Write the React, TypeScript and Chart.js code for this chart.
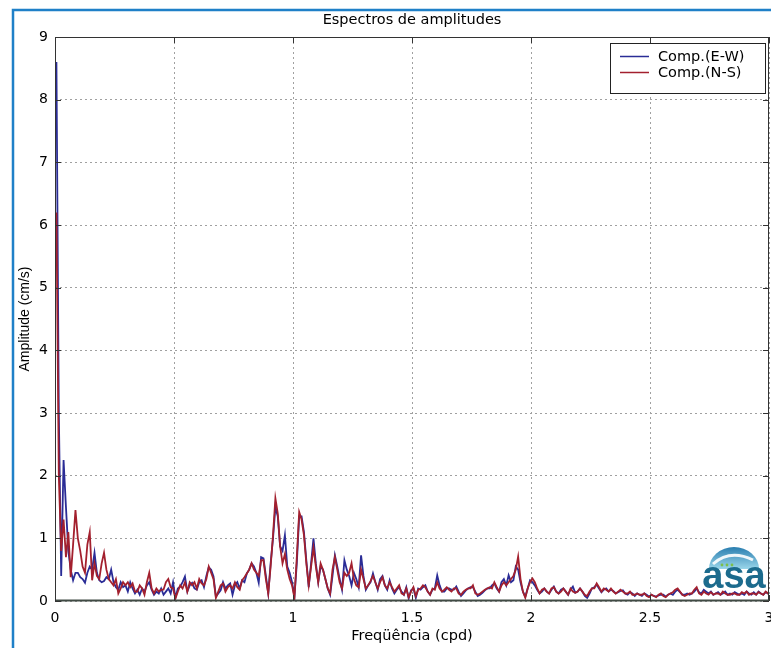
import React, { useEffect, useRef } from 'react';
import { Chart, registerables } from 'chart.js';

Chart.register(...registerables);

const TITLE = 'Espectros de amplitudes';
const X_LABEL = 'Freqüência (cpd)';
const Y_LABEL = 'Amplitude (cm/s)';
const SERIES_NAMES = ['Comp.(E-W)', 'Comp.(N-S)'];
const SERIES_COLORS = ['#2a2c96', '#a3202e'];
const FREQ_STEP = 0.01; // cpd between spectral estimates
const FREQ_START = 0.006; // first resolved frequency (cpd)
const X_MIN = 0;
const X_MAX = 3;
const X_STEP = 0.5;
const Y_MIN = 0;
const Y_MAX = 9;
const Y_STEP = 1;

// Amplitude spectrum, E-W component (cm/s), one value per 0.01 cpd
const ewAmp = [
  8.6, 3.0, 0.4, 2.25, 1.5, 0.8, 0.5, 0.33, 0.45, 0.45,
  0.38, 0.35, 0.29, 0.45, 0.55, 0.5, 0.77, 0.45, 0.33, 0.3,
  0.32, 0.38, 0.35, 0.5, 0.3, 0.22, 0.18, 0.3, 0.22, 0.25,
  0.15, 0.3, 0.2, 0.12, 0.18, 0.1, 0.2, 0.15, 0.25, 0.3,
  0.18, 0.1, 0.15, 0.12, 0.2, 0.1, 0.15, 0.2, 0.12, 0.3,
  0.05, 0.2, 0.23, 0.3, 0.39, 0.15, 0.25, 0.29, 0.2, 0.18,
  0.3, 0.33, 0.22, 0.4, 0.54, 0.5, 0.39, 0.07, 0.12, 0.17,
  0.3, 0.2, 0.25, 0.28, 0.1, 0.25, 0.3, 0.2, 0.33, 0.3,
  0.44, 0.5, 0.6, 0.55, 0.45, 0.29, 0.7, 0.68, 0.4, 0.12,
  0.6, 1.0, 1.5, 1.35, 0.87, 0.8, 1.05, 0.55, 0.45, 0.3,
  0.07, 0.6, 1.35, 1.35, 1.1, 0.65, 0.22, 0.6, 1.0, 0.6,
  0.3, 0.55, 0.5, 0.35, 0.2, 0.1, 0.4, 0.73, 0.55, 0.35,
  0.18, 0.65, 0.5, 0.4, 0.25, 0.45, 0.35, 0.22, 0.73, 0.4,
  0.18, 0.25, 0.3, 0.44, 0.3, 0.18, 0.35, 0.4, 0.25, 0.18,
  0.33, 0.2, 0.12, 0.18, 0.22, 0.15, 0.1, 0.22, 0.04, 0.17,
  0.2, 0.05, 0.2, 0.18, 0.22, 0.25, 0.15, 0.1, 0.18, 0.2,
  0.41, 0.25, 0.15, 0.15, 0.2, 0.2, 0.18, 0.18, 0.23, 0.15,
  0.08, 0.12, 0.17, 0.2, 0.22, 0.22, 0.15, 0.08, 0.1, 0.13,
  0.17, 0.2, 0.2, 0.25, 0.28, 0.2, 0.15, 0.3, 0.35, 0.25,
  0.41, 0.3, 0.33, 0.55, 0.5, 0.3, 0.15, 0.07, 0.2, 0.33,
  0.3, 0.25, 0.18, 0.12, 0.15, 0.2, 0.15, 0.12, 0.18, 0.23,
  0.15, 0.12, 0.18, 0.2, 0.15, 0.1, 0.18, 0.23, 0.13, 0.15,
  0.2, 0.15, 0.08, 0.05, 0.12, 0.2, 0.22, 0.26, 0.2, 0.14,
  0.18, 0.2, 0.15, 0.18, 0.16, 0.12, 0.14, 0.16, 0.17, 0.12,
  0.1, 0.14, 0.12, 0.08, 0.12, 0.1, 0.08, 0.12, 0.1, 0.07,
  0.1, 0.08, 0.07, 0.09, 0.1, 0.1, 0.07, 0.1, 0.12, 0.1,
  0.15, 0.18, 0.14, 0.1, 0.1, 0.12, 0.1, 0.12, 0.15, 0.2,
  0.14, 0.12, 0.18, 0.15, 0.12, 0.15, 0.1, 0.12, 0.14, 0.1,
  0.12, 0.15, 0.1, 0.12, 0.1, 0.14, 0.12, 0.1, 0.12, 0.1,
  0.15, 0.12, 0.1, 0.14, 0.1, 0.15, 0.12, 0.1, 0.14, 0.12,
  0.15,
];

// Amplitude spectrum, N-S component (cm/s), one value per 0.01 cpd
const nsAmp = [
  6.2, 2.0, 0.8, 1.3, 0.7, 1.1, 0.38, 0.9, 1.45, 1.0,
  0.8, 0.55, 0.45, 0.9, 1.1, 0.33, 0.6, 0.4, 0.35, 0.6,
  0.77, 0.5, 0.35, 0.3, 0.25, 0.35, 0.12, 0.2, 0.3, 0.25,
  0.3, 0.22, 0.28, 0.15, 0.15, 0.25, 0.2, 0.1, 0.3, 0.45,
  0.2, 0.12, 0.2, 0.15, 0.18, 0.18, 0.3, 0.35, 0.22, 0.2,
  0.04, 0.15, 0.25, 0.2, 0.3, 0.15, 0.3, 0.25, 0.3, 0.2,
  0.35, 0.28, 0.25, 0.35, 0.55, 0.45, 0.35, 0.05, 0.15, 0.25,
  0.28, 0.15, 0.22, 0.25, 0.2, 0.3, 0.22, 0.18, 0.33, 0.38,
  0.44, 0.5, 0.6, 0.5, 0.45, 0.4, 0.65, 0.65, 0.35, 0.12,
  0.55, 1.05, 1.64, 1.4, 0.87, 0.6, 0.75, 0.5, 0.35, 0.25,
  0.05, 0.7, 1.42, 1.3, 1.05, 0.6, 0.25, 0.55, 0.85, 0.55,
  0.3, 0.6, 0.5, 0.35, 0.2, 0.12, 0.5, 0.7, 0.5, 0.3,
  0.2, 0.45, 0.4, 0.45, 0.6, 0.35, 0.25, 0.22, 0.5, 0.35,
  0.2, 0.25, 0.32, 0.4, 0.3, 0.2, 0.3, 0.38, 0.25, 0.2,
  0.3, 0.22, 0.15, 0.2, 0.25, 0.12, 0.1, 0.2, 0.06, 0.15,
  0.22, 0.08, 0.18, 0.2, 0.25, 0.22, 0.15, 0.1, 0.2, 0.18,
  0.3, 0.2, 0.15, 0.18, 0.22, 0.18, 0.15, 0.2, 0.2, 0.12,
  0.1, 0.15, 0.18, 0.2, 0.2, 0.25, 0.12, 0.1, 0.12, 0.15,
  0.18, 0.2, 0.22, 0.2, 0.3, 0.22, 0.15, 0.25, 0.3, 0.25,
  0.3, 0.35, 0.4, 0.5, 0.71, 0.35, 0.15, 0.05, 0.2, 0.3,
  0.36, 0.3, 0.2, 0.12, 0.18, 0.2, 0.15, 0.12, 0.2, 0.22,
  0.15, 0.12, 0.15, 0.2, 0.15, 0.1, 0.2, 0.15, 0.13, 0.15,
  0.2, 0.15, 0.1, 0.08, 0.15, 0.2, 0.2, 0.28, 0.22, 0.15,
  0.2, 0.18, 0.15, 0.2, 0.15, 0.12, 0.15, 0.18, 0.15, 0.12,
  0.12, 0.15, 0.1, 0.1, 0.12, 0.1, 0.1, 0.12, 0.08, 0.06,
  0.1, 0.08, 0.06, 0.1, 0.12, 0.08, 0.06, 0.1, 0.12, 0.14,
  0.18, 0.2, 0.15, 0.1, 0.08, 0.1, 0.12, 0.12, 0.18, 0.22,
  0.12, 0.1, 0.15, 0.12, 0.1, 0.14, 0.1, 0.12, 0.12, 0.1,
  0.15, 0.12, 0.1, 0.1, 0.12, 0.12, 0.1, 0.1, 0.14, 0.12,
  0.15, 0.1, 0.12, 0.12, 0.1, 0.14, 0.12, 0.1, 0.15, 0.12,
  0.2,
];

const freqs = ewAmp.map((_, i) => Math.round((FREQ_START + i * FREQ_STEP) * 1000) / 1000);

const W = 771;
const H = 648;
const TEXT_FONT = '"DejaVu Sans", sans-serif';

const decorPlugin = {
  id: 'decor',
  beforeDraw(chart: any) {
    const ctx = chart.ctx;
    ctx.save();
    ctx.fillStyle = '#ffffff';
    ctx.fillRect(0, 0, chart.width, chart.height);
    ctx.restore();
  },
  afterDatasetsDraw(chart: any) {
    const ctx = chart.ctx;
    const { left, right, top, bottom } = chart.chartArea;
    const xs = chart.scales.x;
    const ys = chart.scales.y;

    // watermark logo
    ctx.save();
    const cx = 734, cy = 569;
    const g = ctx.createLinearGradient(0, cy - 22, 0, cy);
    g.addColorStop(0, '#2a7eb0');
    g.addColorStop(1, '#9ad6ea');
    ctx.beginPath();
    ctx.ellipse(cx, cy, 25, 22, 0, Math.PI, 2 * Math.PI);
    ctx.closePath();
    ctx.fillStyle = g;
    ctx.fill();
    ctx.beginPath();
    ctx.moveTo(cx - 21, cy - 5);
    ctx.quadraticCurveTo(cx - 4, cy - 20, cx + 19, cy - 9);
    ctx.strokeStyle = 'rgba(255,255,255,0.9)';
    ctx.lineWidth = 3;
    ctx.stroke();
    ctx.fillStyle = '#7cbf4a';
    [-12, -7, -2].forEach((dx) => {
      ctx.beginPath();
      ctx.arc(cx + dx, cy - 4, 1.4, 0, Math.PI * 2);
      ctx.fill();
    });
    ctx.font = 'bold 38px "Liberation Sans", Arial, sans-serif';
    ctx.fillStyle = '#1c6b8d';
    ctx.textAlign = 'center';
    ctx.textBaseline = 'alphabetic';
    ctx.fillText('asa', cx, 588);
    ctx.restore();

    // axes box
    ctx.save();
    ctx.strokeStyle = '#333';
    ctx.lineWidth = 1;
    ctx.strokeRect(left + 0.5, top + 0.5, right - left - 1, bottom - top - 1);
    ctx.beginPath();
    ctx.moveTo(left, bottom - 0.5);
    ctx.lineTo(right, bottom - 0.5);
    ctx.lineWidth = 2;
    ctx.strokeStyle = '#404a44';
    ctx.stroke();
    // inner tick marks
    ctx.lineWidth = 1;
    ctx.strokeStyle = '#333';
    ctx.beginPath();
    xs.ticks.forEach((t: any) => {
      const px = Math.round(xs.getPixelForValue(t.value)) + 0.5;
      ctx.moveTo(px, bottom);
      ctx.lineTo(px, bottom - 6);
      ctx.moveTo(px, top);
      ctx.lineTo(px, top + 6);
    });
    ys.ticks.forEach((t: any) => {
      const py = Math.round(ys.getPixelForValue(t.value)) + 0.5;
      ctx.moveTo(left, py);
      ctx.lineTo(left + 6, py);
      ctx.moveTo(right, py);
      ctx.lineTo(right - 6, py);
    });
    ctx.stroke();
    ctx.restore();

    // legend
    ctx.save();
    const lx = 610, ly = 43, lw = 155, lh = 50;
    ctx.fillStyle = '#ffffff';
    ctx.fillRect(lx, ly, lw, lh);
    ctx.strokeStyle = '#222';
    ctx.lineWidth = 1;
    ctx.strokeRect(lx + 0.5, ly + 0.5, lw, lh);
    ctx.font = '14.5px ' + TEXT_FONT;
    ctx.textAlign = 'left';
    ctx.textBaseline = 'middle';
    SERIES_NAMES.forEach((name, i) => {
      const y = 56 + i * 16;
      ctx.beginPath();
      ctx.moveTo(620, y + 0.5);
      ctx.lineTo(649, y + 0.5);
      ctx.strokeStyle = SERIES_COLORS[i];
      ctx.lineWidth = 1.5;
      ctx.stroke();
      ctx.fillStyle = '#000';
      ctx.fillText(name, 658, y + 1);
    });
    ctx.restore();
  },
  afterDraw(chart: any) {
    const ctx = chart.ctx;
    const { left, right, top, bottom } = chart.chartArea;
    ctx.save();
    ctx.fillStyle = '#000';
    ctx.textAlign = 'center';
    ctx.textBaseline = 'middle';
    ctx.font = '14.5px ' + TEXT_FONT;
    ctx.fillText(TITLE, (left + right) / 2, 20);
    ctx.fillText(X_LABEL, (left + right) / 2, 636);
    ctx.save();
    ctx.translate(25, (top + bottom) / 2);
    ctx.rotate(-Math.PI / 2);
    ctx.font = '14px "Liberation Sans", Arial, sans-serif';
    ctx.fillText(Y_LABEL, 0, 0);
    ctx.restore();
    // outer blue frame
    ctx.strokeStyle = '#1f80c8';
    ctx.lineWidth = 2.5;
    ctx.beginPath();
    ctx.moveTo(13, H);
    ctx.lineTo(13, 10);
    ctx.lineTo(W, 10);
    ctx.stroke();
    ctx.restore();
  },
};

export default function App() {
  const canvasRef = useRef<HTMLCanvasElement | null>(null);

  useEffect(() => {
    const canvas = canvasRef.current;
    if (!canvas) return;
    const tickFont = { family: TEXT_FONT, size: 14 };
    const chart = new Chart(canvas, {
      type: 'line',
      data: {
        datasets: [
          {
            label: SERIES_NAMES[1],
            data: freqs.map((f, i) => ({ x: f, y: nsAmp[i] })),
            borderColor: SERIES_COLORS[1],
            borderWidth: 1.8,
            pointRadius: 0,
            tension: 0,
            fill: false,
            order: 0,
          },
          {
            label: SERIES_NAMES[0],
            data: freqs.map((f, i) => ({ x: f, y: ewAmp[i] })),
            borderColor: SERIES_COLORS[0],
            borderWidth: 1.8,
            pointRadius: 0,
            tension: 0,
            fill: false,
            order: 1,
          },
        ],
      },
      options: {
        responsive: false,
        animation: false,
        events: [],
        layout: { padding: { left: 0, right: 2, top: 37, bottom: 0 } },
        plugins: {
          legend: { display: false },
          title: { display: false },
          tooltip: { enabled: false },
        },
        scales: {
          x: {
            type: 'linear',
            min: X_MIN,
            max: X_MAX,
            afterFit: (s: any) => {
              s.height = 47;
              s.paddingLeft = 0;
              s.paddingRight = 0;
            },
            ticks: {
              stepSize: X_STEP,
              font: tickFont,
              color: '#000',
              padding: 9,
              maxRotation: 0,
              autoSkip: false,
              callback: (v: any) => String(v),
            },
            grid: { color: '#a0a0a0', drawTicks: false, lineWidth: 1 },
            border: { display: false, dash: [2, 3] },
          },
          y: {
            type: 'linear',
            min: Y_MIN,
            max: Y_MAX,
            afterFit: (s: any) => {
              s.width = 55;
              s.paddingTop = 0;
              s.paddingBottom = 0;
            },
            ticks: {
              stepSize: Y_STEP,
              font: tickFont,
              color: '#000',
              padding: 7,
              callback: (v: any) => String(v),
            },
            grid: { color: '#a0a0a0', drawTicks: false, lineWidth: 1 },
            border: { display: false, dash: [2, 3] },
          },
        },
      },
      plugins: [decorPlugin],
    } as any);
    return () => chart.destroy();
  }, []);

  return (
    <div style={{ position: 'fixed', left: 0, top: 0, width: W, height: H, background: '#fff' }}>
      <canvas ref={canvasRef} width={W} height={H} style={{ display: 'block', width: W, height: H }} />
    </div>
  );
}
